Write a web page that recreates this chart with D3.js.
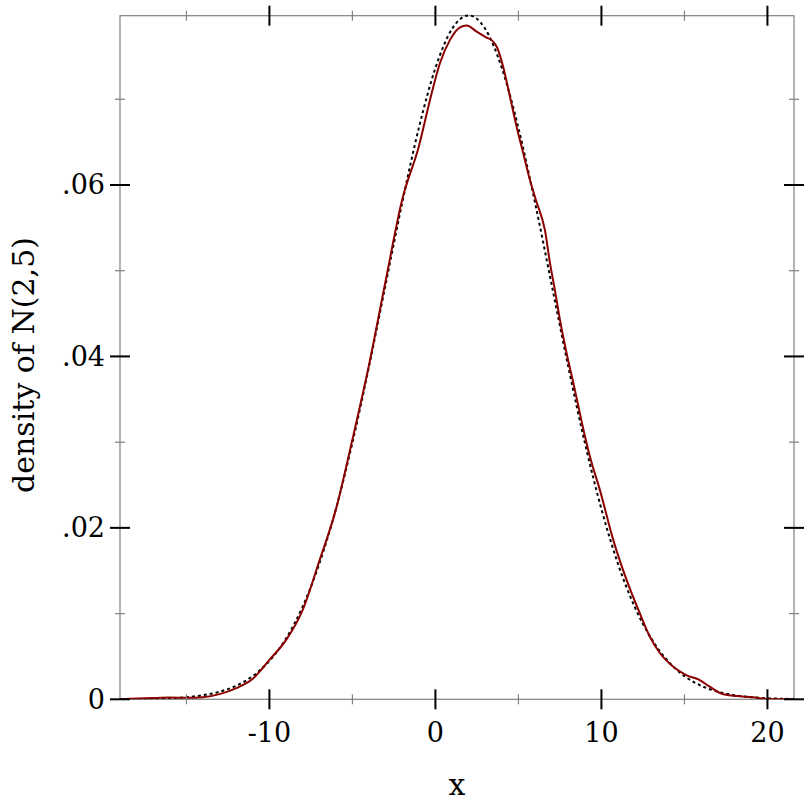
<!DOCTYPE html>
<html><head><meta charset="utf-8">
<script src="https://cdn.jsdelivr.net/npm/d3@7"></script>
<style>body{margin:0;background:#fff}</style>
</head><body>
<script>
// Reference normal density N(2,5) sampled values (dotted)
const normX = [-19,-18,-17,-16,-15,-14,-13,-12,-11,-10,-9,-8,-7,-6,-5,-4,-3,-2,-1,0,1,2,3,4,5,6,7,8,9,10,11,12,13,14,15,16,17,18,19,20,21,21.6];
const normY = [0.0000117,0.0000268,0.0000583,0.0001224,0.0002464,0.0004769,0.0008864,0.0015831,0.0027165,0.0044789,0.0070949,0.010798,0.015790,0.022184,0.029945,0.038837,0.048394,0.057938,0.066645,0.073654,0.078209,0.079788,0.078209,0.073654,0.066645,0.057938,0.048394,0.038837,0.029945,0.022184,0.015790,0.010798,0.0070949,0.0044789,0.0027165,0.0015831,0.0008864,0.0004769,0.0002464,0.0001224,0.0000583,0.0000367];
// Kernel density estimate (solid dark red)
const kdeX = [-19,-18,-17,-16,-15,-14,-13,-12,-11,-10,-9,-8,-7,-6,-5,-4,-3,-2,-1,-0.33,0.27,0.87,1.48,1.88,2.48,3.08,3.39,3.70,4.08,4.49,4.89,5.29,5.69,6.06,6.6,6.9,7.2,7.5,7.9,8.4,8.9,9.31,9.91,10.71,11.52,12.32,12.92,13.52,14.33,15.13,15.93,16.5,17.34,18.14,19.14,19.95,21.6];
const kdeY = [0.00003,0.00008,0.00015,0.0002,0.00018,0.00025,0.0006,0.0013,0.0024,0.0046,0.0069,0.0104,0.0161,0.0221,0.0303,0.039,0.0488,0.0583,0.0645,0.0699,0.0742,0.0769,0.0784,0.0786,0.0779,0.0772,0.0769,0.0761,0.0738,0.0703,0.0668,0.0637,0.0606,0.0582,0.0547,0.0509,0.0477,0.0443,0.0404,0.0361,0.0316,0.0283,0.0244,0.0186,0.0139,0.0100,0.0073,0.0054,0.0038,0.0028,0.00225,0.0015,0.00058,0.00039,0.00023,0.00004,0.00001];
const xMajor = [-10,0,10,20];
const xMinor = [-15,-5,5,15];
const yMajor = [0,0.02,0.04,0.06];
const yMinor = [0.01,0.03,0.05,0.07];
const yLabels = ["0",".02",".04",".06"];
const xTitle = "x";
const yTitle = "density of N(2,5)";

const W = 812, H = 812;
const L = 120, R = 794, T = 15.7, B = 699.3;
const x = d3.scaleLinear().domain([-19.0, 21.6]).range([L, R]);
const y = d3.scaleLinear().domain([0, 0.07975]).range([B, T]);
const font = "'DejaVu Serif', serif";
const fs = 27, fsT = 30;

const svg = d3.select("body").append("svg").attr("width", W).attr("height", H);

const axisCol = "#808080";
svg.append("rect").attr("x", L).attr("y", T).attr("width", R - L).attr("height", B - T)
  .attr("fill", "none").attr("stroke", axisCol).attr("stroke-width", 1.2);

svg.append("clipPath").attr("id", "c").append("rect")
  .attr("x", L).attr("y", T - 2).attr("width", R - L).attr("height", B - T + 2);
const g = svg.append("g").attr("clip-path", "url(#c)");
const line = d3.line().x(d => x(d[0])).y(d => y(d[1])).curve(d3.curveMonotoneX);
g.append("path").attr("d", line(d3.zip(normX, normY)))
  .attr("fill", "none").attr("stroke", "#000").attr("stroke-width", 2)
  .attr("stroke-dasharray", "3,3");
g.append("path").attr("d", line(d3.zip(kdeX, kdeY)))
  .attr("fill", "none").attr("stroke", "#8b0000").attr("stroke-width", 2);

function tickX(v, len, col, w) {
  [B, T].forEach(yy => svg.append("line").attr("x1", x(v)).attr("x2", x(v))
    .attr("y1", yy - len).attr("y2", yy + len).attr("stroke", col).attr("stroke-width", w));
}
function tickY(v, len, col, w) {
  [L, R].forEach(xx => svg.append("line").attr("y1", y(v)).attr("y2", y(v))
    .attr("x1", xx - len).attr("x2", xx + len).attr("stroke", col).attr("stroke-width", w));
}
xMinor.forEach(v => tickX(v, 5, axisCol, 1.2));
yMinor.forEach(v => tickY(v, 5, axisCol, 1.2));
xMajor.forEach(v => tickX(v, 10, "#000", 2));
yMajor.forEach(v => tickY(v, 10, "#000", 2));

svg.selectAll("text.xl").data(xMajor).enter().append("text")
  .attr("x", d => x(d)).attr("y", B + 43).attr("text-anchor", "middle")
  .attr("font-family", font).attr("font-size", fs).text(d => d);
svg.selectAll("text.yl").data(yMajor).enter().append("text")
  .attr("x", L - 15).attr("y", d => y(d) + 9.5).attr("text-anchor", "end")
  .attr("font-family", font).attr("font-size", fs).text((d, i) => yLabels[i]);
svg.append("text").attr("x", (L + R) / 2).attr("y", 795).attr("text-anchor", "middle")
  .attr("font-family", font).attr("font-size", fsT).text(xTitle);
svg.append("text").attr("transform", "translate(34,365) rotate(-90)").attr("text-anchor", "middle")
  .attr("font-family", font).attr("font-size", fsT).text(yTitle);
</script>
</body></html>
